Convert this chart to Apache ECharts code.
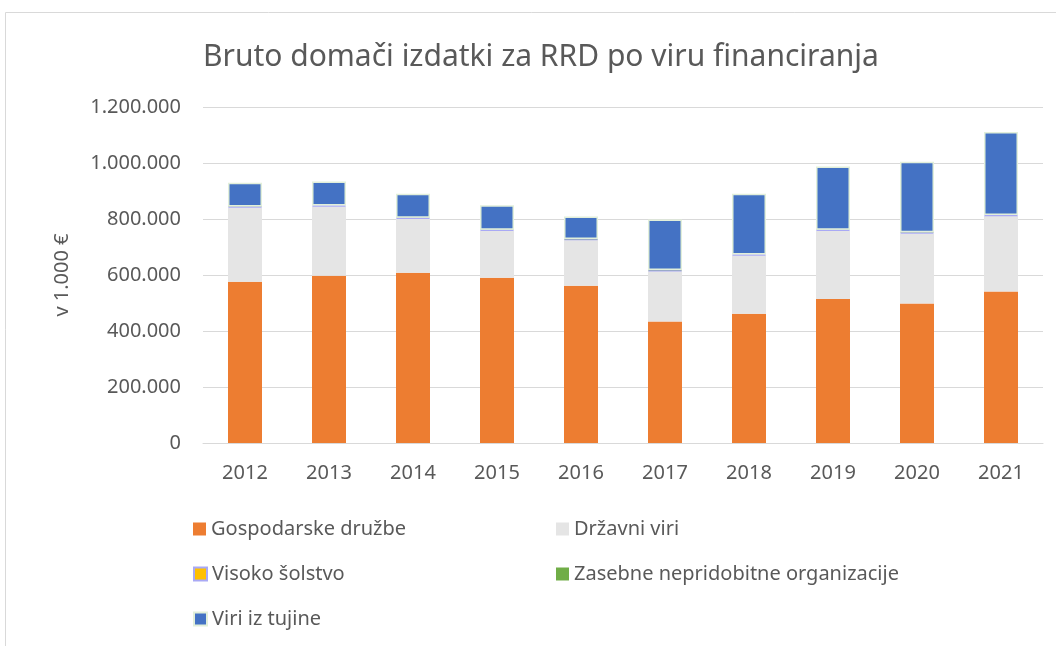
<!DOCTYPE html>
<html>
<head>
<meta charset="utf-8">
<script src="https://cdn.jsdelivr.net/npm/echarts@6/dist/echarts.min.js"></script>
<style>
  html, body { margin: 0; padding: 0; background: #fff; }
  #chart { width: 1056px; height: 646px; }
</style>
</head>
<body>
<div id="chart"></div>
<script>
  const years = ['2012', '2013', '2014', '2015', '2016', '2017', '2018', '2019', '2020', '2021'];
  // v 1.000 €
  const gospodarske = [576000, 597000, 608000, 590000, 562000, 434000, 462000, 514000, 498000, 541000];
  const drzavni = [265000, 248000, 193000, 168000, 163000, 180000, 208000, 244000, 250000, 270000];
  const visoko = [3000, 3000, 3000, 3000, 3000, 3000, 3000, 3000, 4000, 3000];
  const zasebne = [500, 500, 500, 500, 500, 500, 500, 500, 500, 500];
  const tujina = [85000, 85000, 86000, 88000, 80000, 181000, 217000, 226000, 252000, 296000];
  const yTicks = [0, 200000, 400000, 600000, 800000, 1000000, 1200000];

  const fmt = v => String(v).replace(/\B(?=(\d{3})+(?!\d))/g, '.');
  const font = '"Noto Sans", sans-serif';
  const txt = '#595959';

  const chart = echarts.init(document.getElementById('chart'));

  const legendAt = (name, left, top) => ({
    data: [name],
    left: left, top: top,
    icon: 'rect', itemWidth: 13, itemHeight: 13, itemGap: 6,
    textStyle: { color: txt, fontSize: 20, fontFamily: font, padding: [0, 0, 0, 0] },
    selectedMode: false
  });

  const option = {
    backgroundColor: '#fff',
    animation: false,
    title: {
      text: 'Bruto domači izdatki za RRD po viru financiranja',
      left: 198, top: 37,
      textStyle: { color: txt, fontSize: 30, fontWeight: 'normal', fontFamily: font }
    },
    graphic: [{
      type: 'rect', silent: true,
      shape: { x: 5.5, y: 12.5, width: 1100, height: 700 },
      style: { fill: 'none', stroke: '#d9d9d9', lineWidth: 1 }
    }],
    legend: [
      legendAt('Gospodarske družbe', 188, 514),
      legendAt('Državni viri', 551, 514),
      legendAt('Visoko šolstvo', 188, 559),
      legendAt('Zasebne nepridobitne organizacije', 551, 559),
      legendAt('Viri iz tujine', 188, 604)
    ],
    grid: { left: 203, right: 13, top: 107, bottom: 203 },
    xAxis: {
      type: 'category',
      data: years,
      axisLine: { lineStyle: { color: '#d9d9d9', width: 1 } },
      axisTick: { show: false },
      axisLabel: { color: txt, fontSize: 20, fontFamily: font, margin: 20 }
    },
    yAxis: {
      type: 'value',
      min: 0, max: 1200000, interval: 200000,
      name: 'v 1.000 €',
      nameLocation: 'middle',
      nameGap: 131,
      nameTextStyle: { color: txt, fontSize: 20, fontFamily: font },
      axisLine: { show: false },
      axisTick: { show: false },
      splitLine: { lineStyle: { color: '#d9d9d9', width: 1 } },
      axisLabel: {
        color: txt, fontSize: 20, fontFamily: font, margin: 22,
        formatter: v => yTicks.includes(v) ? fmt(v) : ''
      }
    },
    series: [
      {
        name: 'Gospodarske družbe', type: 'bar', stack: 'v', barWidth: 34,
        data: gospodarske,
        itemStyle: { color: '#ed7d31' }
      },
      {
        name: 'Državni viri', type: 'bar', stack: 'v',
        data: drzavni,
        itemStyle: { color: '#e5e5e5' }
      },
      {
        name: 'Visoko šolstvo', type: 'bar', stack: 'v',
        data: visoko,
        itemStyle: { color: '#ffc000', borderColor: '#a9a9f5', borderWidth: 1.5 }
      },
      {
        name: 'Zasebne nepridobitne organizacije', type: 'bar', stack: 'v',
        data: zasebne,
        itemStyle: { color: '#70ad47' }
      },
      {
        name: 'Viri iz tujine', type: 'bar', stack: 'v',
        data: tujina,
        itemStyle: { color: '#4472c4', borderColor: '#e2efda', borderWidth: 1.5 }
      }
    ]
  };

  chart.setOption(option);
</script>
</body>
</html>
